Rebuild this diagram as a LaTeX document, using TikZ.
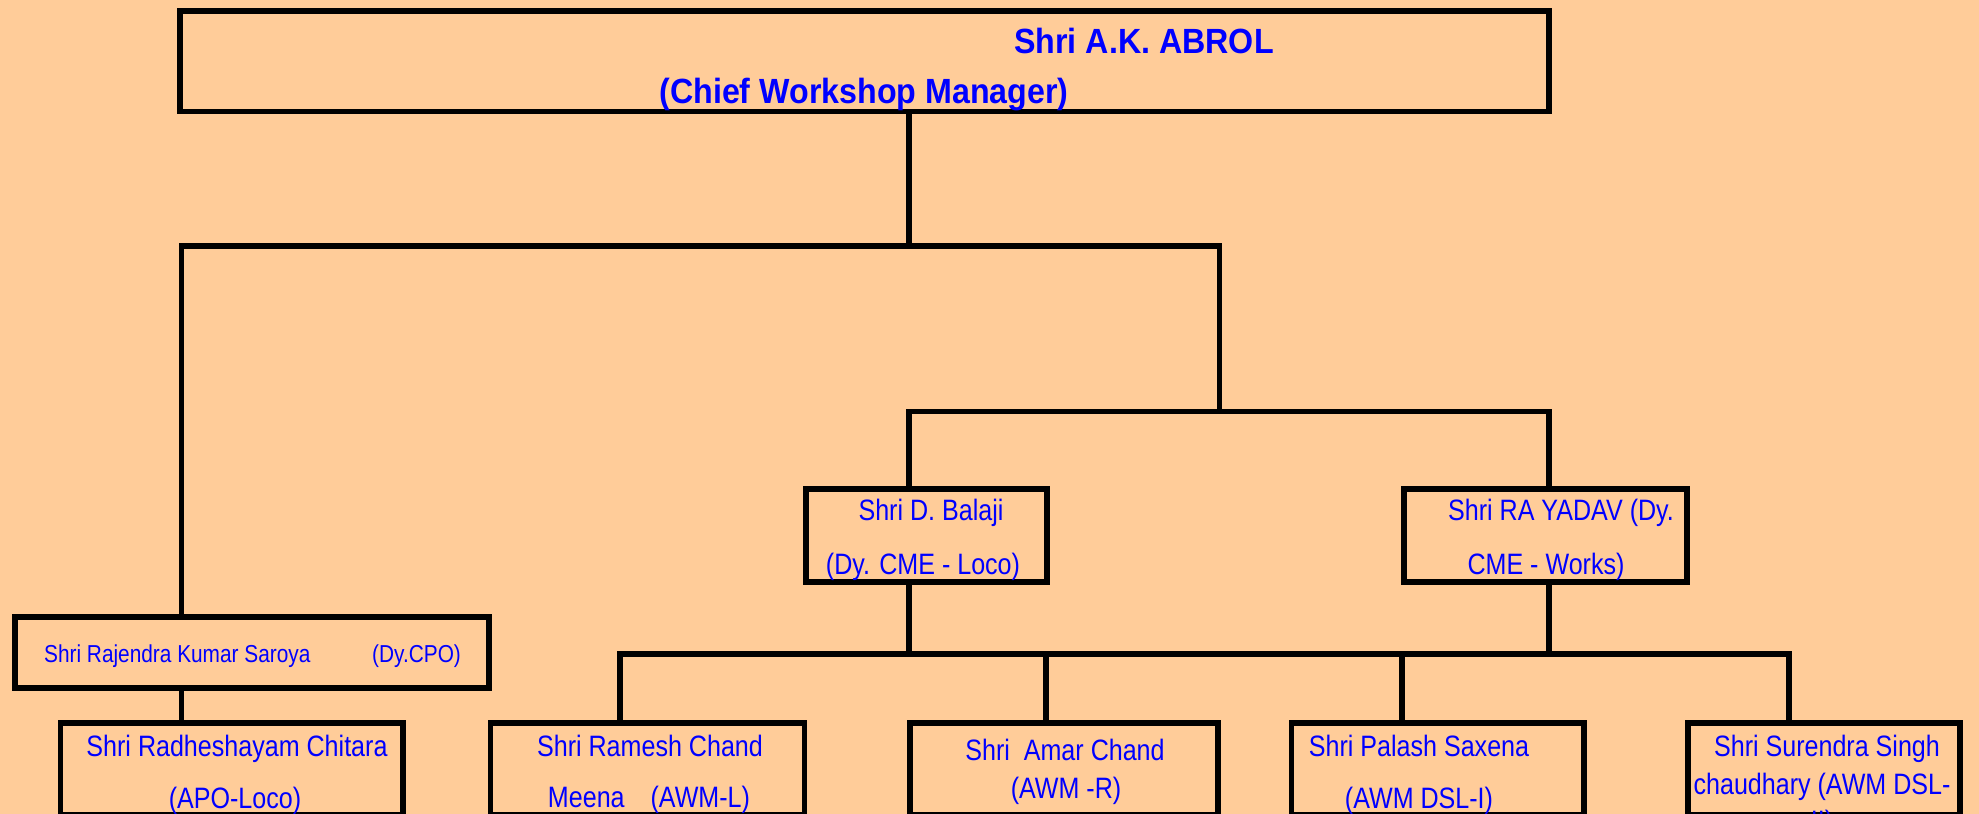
\documentclass[tikz,border=0pt]{standalone}
\usepackage{fontspec}
\newfontfamily\nfont[FakeStretch=0.85]{Liberation Sans}
\newfontfamily\hfont[FakeStretch=0.92]{Liberation Sans}
\definecolor{peach}{RGB}{255,204,153}
\definecolor{txtblue}{RGB}{0,0,255}
\tikzset{
  box/.style={draw=black, line width=5.5pt, inner sep=0pt, fill=none},
  conn/.style={draw=black, line width=5.5pt, line join=miter},
  lbl/.style={text=txtblue, inner sep=0pt, anchor=base, font=\nfont\fontsize{29.5}{34}\selectfont},
  slbl/.style={text=txtblue, inner sep=0pt, anchor=base west, font=\nfont\fontsize{24.5}{29}\selectfont},
  hlbl/.style={text=txtblue, inner sep=0pt, anchor=base, font=\hfont\bfseries\fontsize{35}{42}\selectfont}
}
\begin{document}
\begin{tikzpicture}[x=1pt,y=-1pt]
\useasboundingbox (0,0) rectangle (1979,814);
\clip (0,0) rectangle (1979,814);
\fill[peach] (0,0) rectangle (1979,814);

% boxes
\node[box, minimum width=1369pt, minimum height=100.5pt] (top) at (864.5,61.25) {};
\node[box, minimum width=474pt, minimum height=71pt] (saroya) at (252,652.5) {};
\node[box, minimum width=241pt, minimum height=93pt] (balaji) at (926.5,535.5) {};
\node[box, minimum width=283pt, minimum height=93pt] (yadav) at (1545.5,535.5) {};
\node[box, minimum width=342.5pt, minimum height=92pt] (radhe) at (231.75,769) {};
\node[box, minimum width=314pt, minimum height=92pt] (ramesh) at (647.5,769) {};
\node[box, minimum width=308pt, minimum height=92pt] (amar) at (1064,769) {};
\node[box, minimum width=292.5pt, minimum height=92pt] (palash) at (1437.75,769) {};
\node[box, minimum width=272pt, minimum height=92pt] (surendra) at (1824,769) {};

% junctions
\coordinate (j1) at (909,246);
\coordinate (j2) at (181.5,246);
\coordinate (j3) at (1219.5,246);
\coordinate (j4) at (1219.5,411.5);
\coordinate (j5) at (909,411.5);
\coordinate (j6) at (1549,411.5);
\coordinate (b1) at (909,654);
\coordinate (b2) at (1549,654);
\coordinate (b3) at (620,654);
\coordinate (b4) at (1046,654);
\coordinate (b5) at (1402,654);
\coordinate (b6) at (1789,654);

% connectors
\draw[conn] (top.south -| j1) -- (j1);
\draw[conn] (saroya.north -| j2) -- (j2) -- (j3) -- (j4);
\draw[conn] (balaji.north -| j5) -- (j5) -- (j6) -- (yadav.north -| j6);
\draw[conn] (balaji.south -| b1) -- (b1);
\draw[conn] (yadav.south -| b2) -- (b2);
\draw[conn] (ramesh.north -| b3) -- (b3) -- (b6) -- (surendra.north -| b6);
\draw[conn] (b4) -- (amar.north -| b4);
\draw[conn] (b5) -- (palash.north -| b5);
\draw[conn] (saroya.south -| j2) -- (radhe.north -| j2);

% texts
\node[hlbl] (t1) at (1144,53) {Shri A.K. ABROL};
\node[hlbl] (t2) at (864,103) {(Chief Workshop Manager)};

\node[slbl] (s1) at (44,662) {Shri Rajendra Kumar Saroya};
\node[slbl] (s2) at (372,662) {(Dy.CPO)};

\node[lbl] (ba1) at (931,520) {Shri D. Balaji};
\node[lbl] (ba2) at (923,574) {(Dy. CME - Loco)};
\node[lbl] (ya1) at (1561,520) {Shri RA YADAV (Dy.};
\node[lbl] (ya2) at (1546,574) {CME - Works)};

\node[lbl] (r1) at (237,756) {Shri Radheshayam Chitara};
\node[lbl] (r2) at (235,808) {(APO-Loco)};
\node[lbl] (m1) at (650,756) {Shri Ramesh Chand};
\node[lbl] (m2) at (649,807) {Meena\hspace{26pt}(AWM-L)};
\node[lbl] (a1) at (1065,760) {Shri\hspace{7pt} Amar Chand};
\node[lbl] (a2) at (1066,798) {(AWM -R)};
\node[lbl] (p1) at (1419,756) {Shri Palash Saxena};
\node[lbl] (p2) at (1419,808) {(AWM DSL-I)};
\node[lbl] (u1) at (1827,756) {Shri Surendra Singh};
\node[lbl] (u2) at (1822,794) {chaudhary (AWM DSL-};
\node[lbl] (u3) at (1822,831) {II)};
\end{tikzpicture}
\end{document}
